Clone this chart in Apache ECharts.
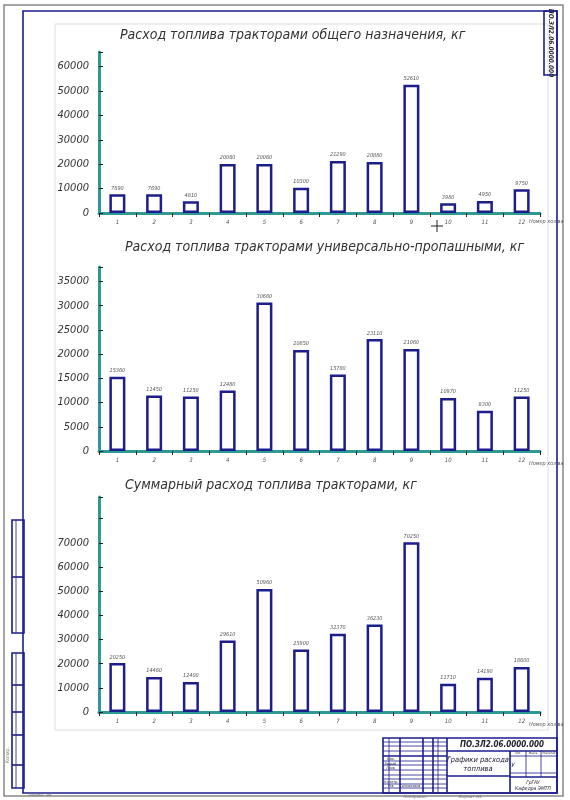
<!DOCTYPE html>
<html>
<head>
<meta charset="utf-8">
<script src="https://cdn.jsdelivr.net/npm/echarts@6/dist/echarts.min.js"></script>
<style>
html,body{margin:0;padding:0;background:#fff;}
#chart{width:570px;height:800px;}
</style>
</head>
<body>
<div id="chart"></div>
<script>
// ---- data ----
const categories = ['1','2','3','4','5','6','7','8','9','10','11','12'];
const generalValues = [7690, 7690, 4810, 20060, 20060, 10300, 21290, 20880, 52610, 3980, 4950, 9750];
const rowCropValues = [15360, 11450, 11250, 12480, 30660, 20850, 15780, 23110, 21060, 10970, 8300, 11250];
const totalValues = [20250, 14460, 12400, 29610, 50960, 25900, 32370, 36230, 70250, 11710, 14190, 18600];
const chartTitles = [
  'Расход топлива тракторами общего назначения, кг',
  'Расход топлива тракторами универсально-пропашными, кг',
  'Суммарный расход топлива тракторами, кг'
];
const axisMax = [66000, 38000, 89000];
const axisInterval = [10000, 5000, 10000];
const labelMax = [60000, 35000, 70000];
const xAxisName = 'Номер хоз-ва';

const seriesData = [generalValues, rowCropValues, totalValues];

// ---- layout / style ----
const FONT = 'DejaVu Sans Condensed, DejaVu Sans, sans-serif';
const TEAL = '#2e9a94';
const NAVY = '#1d1d8c';
const grids = [
  {left: 99, right: 30, top: 52, height: 161},
  {left: 99, right: 30, top: 267, height: 184},
  {left: 99, right: 30, top: 497, height: 215}
];
const titlePos = [
  {left: 115, top: 23},
  {left: 120, top: 235},
  {left: 120, top: 473}
];

const chart = echarts.init(document.getElementById('chart'), null, {renderer: 'canvas'});

const xAxes = [], yAxes = [], series = [], titles = [];
for (let i = 0; i < 3; i++) {
  titles.push({
    text: chartTitles[i],
    left: titlePos[i].left, top: titlePos[i].top,
    textStyle: {fontFamily: FONT, fontStyle: 'italic', fontWeight: 'normal', fontSize: 14, color: '#333'}
  });
  xAxes.push({
    type: 'category', gridIndex: i, data: categories,
    axisLine: {lineStyle: {color: TEAL, width: 3}},
    axisTick: {show: true, length: 4, lineStyle: {color: '#222', width: 1}},
    axisLabel: {fontSize: 6, color: '#555', fontStyle: 'italic', fontFamily: FONT, margin: 6},
    name: xAxisName, nameLocation: 'end', nameGap: 8,
    nameTextStyle: {fontSize: 5.5, color: '#555', fontStyle: 'italic', fontFamily: FONT,
      align: 'right', verticalAlign: 'top', padding: [i === 0 ? 6 : 10, 0, 0, 0]}
  });
  const lm = labelMax[i], iv = axisInterval[i];
  yAxes.push({
    type: 'value', gridIndex: i, min: 0, max: axisMax[i], interval: iv,
    axisLine: {show: true, lineStyle: {color: TEAL, width: 3}},
    axisTick: {show: true, inside: true, length: 4, lineStyle: {color: '#222', width: 1}},
    splitLine: {show: false},
    axisLabel: {
      fontFamily: FONT, fontStyle: 'italic', fontSize: 11, color: '#333', margin: 10,
      padding: [0, 0, 5, 0],
      formatter: function (v) { return (v % iv === 0 && v <= lm) ? String(v) : ''; }
    }
  });
  series.push({
    type: 'bar', xAxisIndex: i, yAxisIndex: i, data: seriesData[i],
    barWidth: 16,
    itemStyle: {color: '#ffffff', borderColor: NAVY, borderWidth: 2.5},
    label: {show: true, position: 'top', distance: 3, fontSize: 5.5, color: '#555',
      fontStyle: 'italic', fontFamily: FONT}
  });
}

// ---- drawing-sheet frame (decoration) ----
const blue = {stroke: NAVY, fill: 'none', lineWidth: 1.6};
const thin = {stroke: NAVY, fill: 'none', lineWidth: 0.8};
function L(x1, y1, x2, y2, st) { return {type: 'line', silent: true, shape: {x1, y1, x2, y2}, style: st || thin}; }
function T(x, y, text, size, opts) {
  return Object.assign({type: 'text', silent: true, x, y,
    style: Object.assign({text, fontSize: size, fontFamily: FONT, fontStyle: 'italic', fill: '#223', align: 'center', verticalAlign: 'middle'}, (opts && opts.style) || {})},
    opts && opts.extra || {});
}
const graphic = [
  {type: 'rect', silent: true, shape: {x: 4, y: 5, width: 559, height: 791}, style: {stroke: '#888', fill: 'none', lineWidth: 1.5}},
  {type: 'rect', silent: true, shape: {x: 23, y: 11, width: 534, height: 782}, style: blue},
  {type: 'rect', silent: true, shape: {x: 55, y: 24, width: 493, height: 706}, style: {stroke: '#dddddd', fill: 'none', lineWidth: 1}},
  // top-right designation box
  {type: 'rect', silent: true, shape: {x: 544, y: 11, width: 13, height: 64}, style: blue},
  {type: 'text', silent: true, x: 550.5, y: 43, rotation: -Math.PI / 2,
    style: {text: 'ПО.ЗЛ2.06.0000.000', fontSize: 6.5, fontWeight: 'bold', fontFamily: FONT, fontStyle: 'italic', fill: '#223', align: 'center', verticalAlign: 'middle'}},
  // left side boxes
  {type: 'rect', silent: true, shape: {x: 12, y: 520, width: 12, height: 113}, style: blue},
  L(12, 577, 24, 577, blue), L(16, 520, 16, 633),
  {type: 'rect', silent: true, shape: {x: 12, y: 653, width: 12, height: 135}, style: blue},
  L(12, 685, 24, 685, blue), L(12, 712, 24, 712, blue), L(12, 735, 24, 735, blue), L(12, 765, 24, 765, blue),
  L(16, 653, 16, 788),
  {type: 'text', silent: true, x: 8, y: 755, rotation: Math.PI / 2,
    style: {text: 'Копир.', fontSize: 5, fontFamily: FONT, fill: '#777', align: 'center', verticalAlign: 'middle'}},
  T(40, 795, 'Формат А4', 4.5, {style: {fill: '#777'}}),
  // title block
  {type: 'rect', silent: true, shape: {x: 383, y: 738, width: 174, height: 55}, style: blue},
  L(447, 738, 447, 793, blue),
  L(447, 751, 557, 751, blue),
  L(510, 751, 510, 793, blue),
  L(447, 776, 510, 776, blue),
  L(510, 756, 557, 756), L(510, 773, 557, 773), L(510, 777, 557, 777, blue),
  L(526, 751, 526, 777), L(541, 751, 541, 777),
  L(389, 738, 389, 793), L(400, 738, 400, 793, blue), L(423, 738, 423, 793, blue), L(433, 738, 433, 793, blue), L(438, 738, 438, 793),
  L(383, 742, 447, 742), L(383, 746, 447, 746), L(383, 751, 447, 751),
  L(383, 756, 447, 756, blue),
  L(383, 761, 447, 761), L(383, 765, 447, 765), L(383, 770, 447, 770), L(383, 775, 447, 775),
  L(383, 779, 447, 779), L(383, 784, 447, 784), L(383, 788, 447, 788),
  T(502, 744.5, 'ПО.ЗЛ2.06.0000.000', 8, {style: {fontWeight: 'bold'}}),
  T(478, 760, 'Графики расхода', 7.5),
  T(478, 769, 'топлива', 7.5),
  T(533, 783, 'ГрГАУ', 5),
  T(533, 789, 'Кафедра ЭМТП', 5),
  T(391, 759, 'Изм.', 3.5), T(391, 764, 'Разраб.', 3.5), T(391, 768, 'Пров.', 3.5),
  T(391, 782, 'Н.контр.', 3.5), T(391, 786.5, 'Утв.', 3.5),
  T(410, 786.5, 'Сапожников', 3.5),
  T(518, 753.5, 'Лит.', 3), T(533, 753.5, 'Масса', 3), T(549, 753.5, 'Масштаб', 3),
  T(513, 765, 'У', 6),
  T(470, 797, 'Формат А4', 4.5, {style: {fill: '#777'}}),
  T(415, 797, 'Копировал', 4.5, {style: {fill: '#777'}}),
  // CAD cursor
  L(437, 220, 437, 232, {stroke: '#222', lineWidth: 1}),
  L(431, 226, 443, 226, {stroke: '#222', lineWidth: 1})
];

chart.setOption({
  backgroundColor: '#ffffff',
  animation: false,
  title: titles,
  grid: grids,
  xAxis: xAxes,
  yAxis: yAxes,
  series: series,
  graphic: graphic
});
</script>
</body>
</html>
